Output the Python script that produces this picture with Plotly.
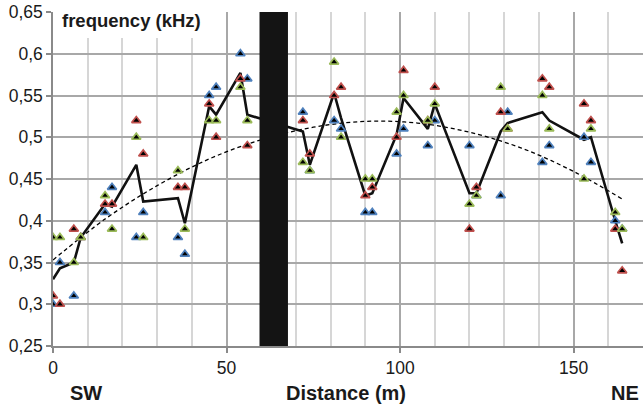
import plotly.graph_objects as go

# distance along profile (m)
distance = [0, 2, 6, 8, 15, 17, 24, 26, 36, 38, 45, 47, 54, 56, 72, 74, 81, 83,
            90, 92, 99, 101, 108, 110, 120, 122, 129, 131, 141, 143, 153, 155, 162, 164]

freq_blue = [0.30, 0.35, 0.31, 0.38, 0.41, 0.44, 0.38, 0.41, 0.38, 0.36, 0.55, 0.56,
             0.60, 0.57, 0.53, 0.46, 0.52, 0.51, 0.41, 0.41, 0.48, 0.51, 0.49, 0.52,
             0.49, 0.43, 0.43, 0.53, 0.47, 0.49, 0.50, 0.47, 0.40, 0.39]
freq_red = [0.31, 0.30, 0.39, 0.38, 0.42, 0.42, 0.52, 0.48, 0.44, 0.44, 0.54, 0.50,
            0.57, 0.49, 0.52, 0.48, 0.55, 0.56, 0.43, 0.44, 0.50, 0.58, 0.52, 0.56,
            0.39, 0.44, 0.53, 0.51, 0.57, 0.56, 0.54, 0.52, 0.39, 0.34]
freq_green = [0.38, 0.38, 0.35, 0.38, 0.43, 0.39, 0.50, 0.38, 0.46, 0.39, 0.52, 0.52,
              0.56, 0.52, 0.47, 0.46, 0.59, 0.50, 0.45, 0.45, 0.53, 0.55, 0.52, 0.54,
              0.42, 0.43, 0.56, 0.51, 0.55, 0.51, 0.45, 0.51, 0.41, 0.39]
freq_mean = [0.330, 0.343, 0.350, 0.380, 0.420, 0.417, 0.467, 0.423, 0.427, 0.397,
             0.537, 0.527, 0.577, 0.527, 0.507, 0.467, 0.553, 0.523, 0.430, 0.433,
             0.503, 0.547, 0.510, 0.540, 0.433, 0.433, 0.507, 0.517, 0.530, 0.520,
             0.497, 0.500, 0.400, 0.373]

# polynomial trend
trend_x = [0, 15, 30, 45, 60, 75, 90, 105, 120, 135, 150, 164]
trend_y = [0.353, 0.402, 0.442, 0.474, 0.497, 0.512, 0.519, 0.517, 0.506, 0.487, 0.459, 0.426]

# gap in profile (m)
gap_start = 59.5
gap_end = 67.7

y_ticks = [0.25, 0.30, 0.35, 0.40, 0.45, 0.50, 0.55, 0.60, 0.65]
y_tick_labels = ["0,25", "0,3", "0,35", "0,4", "0,45", "0,5", "0,55", "0,6", "0,65"]
x_ticks = [0, 50, 100, 150]

FONT = "Liberation Sans, Arial, sans-serif"

fig = go.Figure()

fig.add_trace(go.Scatter(x=trend_x, y=trend_y, mode="lines", line_shape="spline",
                         line=dict(color="black", width=1.3, dash="4px,3px"),
                         hoverinfo="skip", showlegend=False))
fig.add_trace(go.Scatter(x=distance, y=freq_mean, mode="lines",
                         line=dict(color="#111111", width=2.6),
                         showlegend=False))

for vals, col in [(freq_blue, "#4f81bd"), (freq_red, "#c0504d"), (freq_green, "#9bbb59")]:
    fig.add_trace(go.Scatter(x=distance, y=vals, mode="markers",
                             marker=dict(symbol="triangle-up", size=8, color="black",
                                         line=dict(color=col, width=1.7)),
                             showlegend=False))

fig.add_shape(type="rect", xref="x", yref="y", x0=gap_start, x1=gap_end, y0=0.25, y1=0.65,
              fillcolor="#141414", line=dict(width=0), layer="above")
# white box behind the unit label
fig.add_shape(type="rect", xref="paper", yref="paper", x0=0.006, x1=0.259, y0=0.922, y1=1.03,
              fillcolor="white", line=dict(width=0), layer="above")

fig.add_annotation(text="<b>frequency (kHz)</b>", xref="paper", yref="paper",
                   x=0.1338, y=0.976, xanchor="center", yanchor="middle", showarrow=False,
                   font=dict(family=FONT, size=18.5, color="#1a1a1a"))
for txt, xp in [("SW", 0.0566), ("Distance (m)", 0.496), ("NE", 0.9695)]:
    fig.add_annotation(text="<b>" + txt + "</b>", xref="paper", yref="paper", x=xp, y=0,
                       xanchor="center", yanchor="middle", yshift=-47, showarrow=False,
                       font=dict(family=FONT, size=20, color="#1a1a1a"))

fig.update_layout(
    width=643, height=410,
    margin=dict(l=53, r=0, t=12, b=64),
    paper_bgcolor="white", plot_bgcolor="white",
    font=dict(family=FONT, size=17.5, color="#1a1a1a"),
    showlegend=False,
)
fig.update_xaxes(range=[0, 170], tickvals=x_ticks, showgrid=True, gridcolor="#a8a8a8", gridwidth=1.5,
                 minor=dict(dtick=10, showgrid=True, gridcolor="#d6d6d6", gridwidth=1.5),
                 showline=True, linecolor="#8a8a8a", linewidth=1.5,
                 ticks="outside", ticklen=5, tickcolor="#8a8a8a", tickwidth=1.5,
                 zeroline=False, tickfont=dict(size=17.5))
fig.update_yaxes(range=[0.25, 0.65], tickvals=y_ticks, ticktext=y_tick_labels,
                 showgrid=True, gridcolor="#a8a8a8", gridwidth=1.5,
                 showline=True, linecolor="#8a8a8a", linewidth=1.5,
                 ticks="outside", ticklen=5, tickcolor="#8a8a8a", tickwidth=1.5,
                 zeroline=False, tickfont=dict(size=17.5))

fig.write_html("out.html", config={"displayModeBar": False},
               post_script="document.body.style.margin='0';document.body.style.overflow='hidden';")
